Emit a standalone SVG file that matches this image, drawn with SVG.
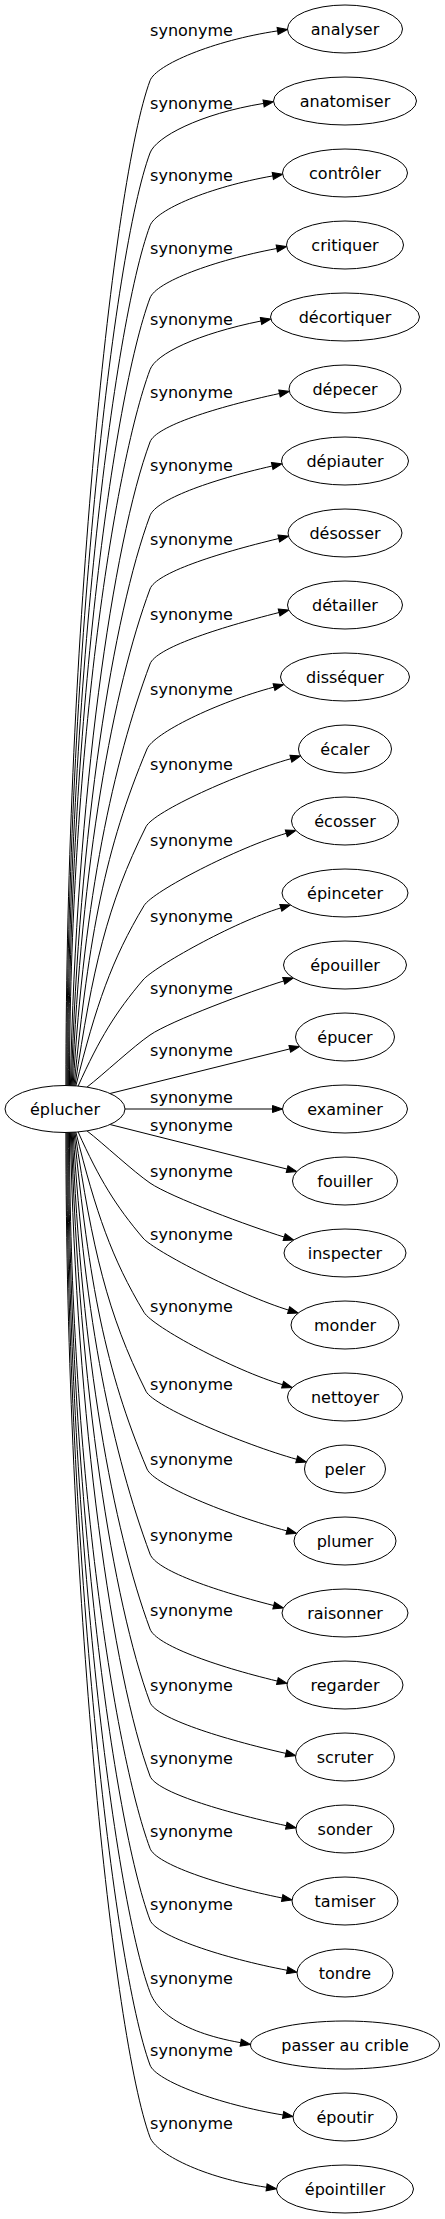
<svg xmlns="http://www.w3.org/2000/svg" width="445" height="2219" viewBox="0 0 445 2219">
<style>
text{font-family:"DejaVu Sans",Verdana,sans-serif;font-size:16px;fill:#000;text-anchor:middle}
.n ellipse{fill:#fff;stroke:#000;stroke-width:1}
.e path{fill:none;stroke:#000;stroke-width:1;marker-end:url(#ah)}
</style>
<defs>
<marker id="ah" markerUnits="userSpaceOnUse" markerWidth="10" markerHeight="7" refX="0" refY="3.5" orient="auto" overflow="visible">
<path d="M0,0 L10,3.5 L0,7 z" fill="#000" stroke="#000" stroke-width="1"/>
</marker>
</defs>
<rect width="445" height="2219" fill="#fff"/>
<g id="connectors" class="e">
<path d="M65.9,1086 C65.9,634 113,180.7 150,80.7 C155.9,64.8 213.3,40.5 277.6,30.9"/>
<path d="M66.8,1086 C66.8,666 113,253 150,153 C155.9,137.1 199.4,113.9 263.6,103.4"/>
<path d="M67.7,1086 C67.7,699 113,325.7 150,225.7 C155.9,209.8 208.8,187.2 272.8,175.9"/>
<path d="M68.6,1086 C68.6,731 113,398 150,298 C155.9,282.1 212.9,260.6 276.8,248.5"/>
<path d="M69.5,1086 C69.5,764 113,469.7 150,369.7 C155.9,353.8 197.3,333.9 261,321"/>
<path d="M70.4,1086 C76.2,796 113,542 150,442 C155.9,426.1 216,407.2 279.5,393.5"/>
<path d="M71.3,1086 C79,829 113,615.7 150,515.7 C155.9,499.8 208.8,480.4 272.2,466"/>
<path d="M72.2,1086 C81.2,862 113,689 150,589 C155.9,573.1 215.6,553.7 278.8,538.5"/>
<path d="M73.1,1086 C84.5,896 113,764 150,664 C155.9,648.1 216.1,628.5 279.1,612.5"/>
<path d="M74,1086 C89.2,934 105,849 147,749 C153.6,733.3 216,702.6 274,687.1"/>
<path d="M74.9,1086 C92.5,969 107,904.7 146,826.7 C153.6,811.5 237.9,773.5 290.9,758.7"/>
<path d="M75.8,1086 C96.1,1005 111.6,959.7 144,905.7 C152.7,891.1 238.3,847.4 286.3,833.3"/>
<path d="M78,1086.3 C99.6,1038.3 115.8,1012 143,980 C154,967 233,922.5 280.8,907.9"/>
<path d="M87,1087.1 C102.7,1075 133.5,1046.3 150,1035 C170.6,1020.9 250.3,991.3 283.75,980.96"/>
<path d="M110,1093.5 L289.8,1048.9"/>
<path d="M125,1109 L272.5,1109"/>
<path d="M110,1124.5 L287.1,1169.1"/>
<path d="M87,1130.9 C102.7,1143 133.5,1171.7 150,1183 C170.6,1197.1 250.7,1226.7 284.15,1237.04"/>
<path d="M78,1131.7 C99.6,1179.7 115.8,1206 143,1238 C154,1251 240.8,1295.5 288.6,1310.1"/>
<path d="M75.8,1132 C96.1,1213 111.6,1258.3 144,1312.3 C152.7,1326.9 234.6,1370.6 282.6,1384.7"/>
<path d="M74.9,1132 C92.5,1249 107,1313.3 146,1391.3 C153.6,1406.5 243.7,1444.5 296.7,1459.3"/>
<path d="M74,1132 C89.2,1284 105,1369 147,1469 C153.6,1484.7 228.9,1515.4 286.9,1530.9"/>
<path d="M73.1,1132 C84.5,1322 113,1454 150,1554 C155.9,1569.9 210.7,1589.5 273.7,1605.5"/>
<path d="M72.2,1132 C81.2,1356 113,1529 150,1629 C155.9,1644.9 214.2,1665.9 277.4,1681.1"/>
<path d="M71.3,1132 C79,1389 113,1602.3 150,1702.3 C155.9,1718.2 222.5,1739 285.9,1753.4"/>
<path d="M70.4,1132 C76.2,1422 113,1676 150,1776 C155.9,1791.9 222.8,1812 286.3,1825.7"/>
<path d="M69.5,1132 C69.5,1454 113,1748.3 150,1848.3 C155.9,1864.2 218.5,1885.1 282.2,1898"/>
<path d="M68.6,1132 C68.6,1487 113,1820 150,1920 C155.9,1935.9 223.3,1958.2 287.2,1970.3"/>
<path d="M67.7,1132 C67.7,1519 113,1892.3 150,1992.3 C155.9,2008.2 176.7,2031.4 240.7,2042.7"/>
<path d="M66.8,1132 C66.8,1552 113,1965 150,2065 C155.9,2080.9 218.9,2104.5 283.1,2115"/>
<path d="M65.9,1132 C65.9,1584 113,2037.3 150,2137.3 C155.9,2153.2 202.3,2177.7 266.6,2187.3"/>
</g>
<g id="labels">
<text x="191.5" y="36.2">synonyme</text>
<text x="191.5" y="108.5">synonyme</text>
<text x="191.5" y="181.2">synonyme</text>
<text x="191.5" y="253.5">synonyme</text>
<text x="191.5" y="325.2">synonyme</text>
<text x="191.5" y="397.5">synonyme</text>
<text x="191.5" y="471.2">synonyme</text>
<text x="191.5" y="544.5">synonyme</text>
<text x="191.5" y="619.5">synonyme</text>
<text x="191.5" y="694.5">synonyme</text>
<text x="191.5" y="770.2">synonyme</text>
<text x="191.5" y="846.2">synonyme</text>
<text x="191.5" y="921.5">synonyme</text>
<text x="191.5" y="993.8">synonyme</text>
<text x="191.5" y="1056.2">synonyme</text>
<text x="191.5" y="1102.5">synonyme</text>
<text x="191.5" y="1130.5">synonyme</text>
<text x="191.5" y="1177.2">synonyme</text>
<text x="191.5" y="1239.5">synonyme</text>
<text x="191.5" y="1311.5">synonyme</text>
<text x="191.5" y="1389.5">synonyme</text>
<text x="191.5" y="1465.2">synonyme</text>
<text x="191.5" y="1541.2">synonyme</text>
<text x="191.5" y="1616.2">synonyme</text>
<text x="191.5" y="1690.5">synonyme</text>
<text x="191.5" y="1763.5">synonyme</text>
<text x="191.5" y="1837.2">synonyme</text>
<text x="191.5" y="1910.2">synonyme</text>
<text x="191.5" y="1983.5">synonyme</text>
<text x="191.5" y="2056.2">synonyme</text>
<text x="191.5" y="2128.5">synonyme</text>
</g>
<g id="eplucher" class="n"><ellipse cx="65" cy="1109" rx="60" ry="23.5"/><text x="65" y="1114.5">éplucher</text></g>
<g id="analyser" class="n"><ellipse cx="345" cy="29" rx="57.5" ry="24"/><text x="345" y="34.5">analyser</text></g>
<g id="anatomiser" class="n"><ellipse cx="345" cy="101" rx="71.5" ry="24"/><text x="345" y="106.5">anatomiser</text></g>
<g id="controler" class="n"><ellipse cx="345" cy="173" rx="62.5" ry="24"/><text x="345" y="178.5">contrôler</text></g>
<g id="critiquer" class="n"><ellipse cx="345" cy="245" rx="58.5" ry="24"/><text x="345" y="250.5">critiquer</text></g>
<g id="decortiquer" class="n"><ellipse cx="345" cy="317" rx="74.5" ry="24"/><text x="345" y="322.5">décortiquer</text></g>
<g id="depecer" class="n"><ellipse cx="345" cy="389" rx="56" ry="24"/><text x="345" y="394.5">dépecer</text></g>
<g id="depiauter" class="n"><ellipse cx="345" cy="461" rx="63.5" ry="24"/><text x="345" y="466.5">dépiauter</text></g>
<g id="desosser" class="n"><ellipse cx="345" cy="533" rx="57" ry="24"/><text x="345" y="538.5">désosser</text></g>
<g id="detailler" class="n"><ellipse cx="345" cy="605" rx="57.5" ry="24"/><text x="345" y="610.5">détailler</text></g>
<g id="dissequer" class="n"><ellipse cx="345" cy="677" rx="64.5" ry="24"/><text x="345" y="682.5">disséquer</text></g>
<g id="ecaler" class="n"><ellipse cx="345" cy="749" rx="46.5" ry="24"/><text x="345" y="754.5">écaler</text></g>
<g id="ecosser" class="n"><ellipse cx="345" cy="821" rx="53.5" ry="24"/><text x="345" y="826.5">écosser</text></g>
<g id="epinceter" class="n"><ellipse cx="345" cy="893" rx="63" ry="24"/><text x="345" y="898.5">épinceter</text></g>
<g id="epouiller" class="n"><ellipse cx="345" cy="965" rx="61.5" ry="24"/><text x="345" y="970.5">épouiller</text></g>
<g id="epucer" class="n"><ellipse cx="345" cy="1037" rx="49.5" ry="24"/><text x="345" y="1042.5">épucer</text></g>
<g id="examiner" class="n"><ellipse cx="345" cy="1109" rx="62.5" ry="24"/><text x="345" y="1114.5">examiner</text></g>
<g id="fouiller" class="n"><ellipse cx="345" cy="1181" rx="52.5" ry="24"/><text x="345" y="1186.5">fouiller</text></g>
<g id="inspecter" class="n"><ellipse cx="345" cy="1253" rx="61" ry="24"/><text x="345" y="1258.5">inspecter</text></g>
<g id="monder" class="n"><ellipse cx="345" cy="1325" rx="54" ry="24"/><text x="345" y="1330.5">monder</text></g>
<g id="nettoyer" class="n"><ellipse cx="345" cy="1397" rx="57.5" ry="24"/><text x="345" y="1402.5">nettoyer</text></g>
<g id="peler" class="n"><ellipse cx="345" cy="1469" rx="40.5" ry="24"/><text x="345" y="1474.5">peler</text></g>
<g id="plumer" class="n"><ellipse cx="345" cy="1541" rx="51" ry="24"/><text x="345" y="1546.5">plumer</text></g>
<g id="raisonner" class="n"><ellipse cx="345" cy="1613" rx="63" ry="24"/><text x="345" y="1618.5">raisonner</text></g>
<g id="regarder" class="n"><ellipse cx="345" cy="1685" rx="58" ry="24"/><text x="345" y="1690.5">regarder</text></g>
<g id="scruter" class="n"><ellipse cx="345" cy="1757" rx="49.5" ry="24"/><text x="345" y="1762.5">scruter</text></g>
<g id="sonder" class="n"><ellipse cx="345" cy="1829" rx="49" ry="24"/><text x="345" y="1834.5">sonder</text></g>
<g id="tamiser" class="n"><ellipse cx="345" cy="1901" rx="53" ry="24"/><text x="345" y="1906.5">tamiser</text></g>
<g id="tondre" class="n"><ellipse cx="345" cy="1973" rx="48" ry="24"/><text x="345" y="1978.5">tondre</text></g>
<g id="passer-au-crible" class="n"><ellipse cx="345" cy="2045" rx="94.5" ry="24"/><text x="345" y="2050.5">passer au crible</text></g>
<g id="epoutir" class="n"><ellipse cx="345" cy="2117" rx="52" ry="24"/><text x="345" y="2122.5">époutir</text></g>
<g id="epointiller" class="n"><ellipse cx="345" cy="2189" rx="68.5" ry="24"/><text x="345" y="2194.5">épointiller</text></g>
</svg>
